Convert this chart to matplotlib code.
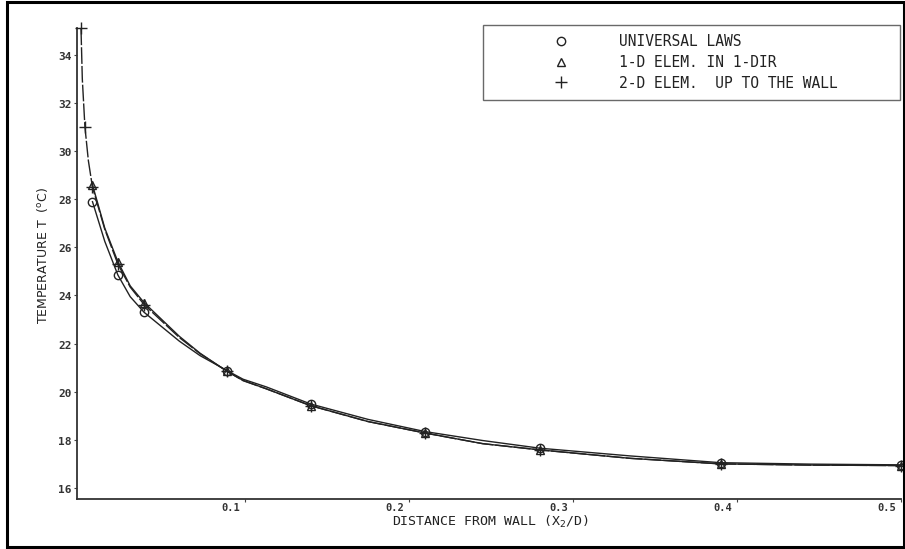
import numpy as np
import matplotlib
matplotlib.use("Agg")
from matplotlib import pyplot as plt
from matplotlib.patches import Rectangle
from matplotlib.lines import Line2D
import matplotlib.transforms as mtransforms

W, H = 905, 549  # figure size in pixels

# computed nodes (markers): x2/D and temperature (C)
x_nodes = [0.007, 0.0225, 0.0385, 0.089, 0.14, 0.21, 0.28, 0.39, 0.5]
t_universal = [27.9, 24.85, 23.3, 20.88, 19.49, 18.34, 17.65, 17.05, 16.96]
t_1d = [28.6, 25.4, 23.7, 20.85, 19.42, 18.28, 17.58, 17.0, 16.93]
x_2d = [0.0, 0.0024, 0.007, 0.0225, 0.0385, 0.089, 0.14, 0.21, 0.28, 0.39, 0.5]
t_2d = [35.1, 31.0, 28.5, 25.3, 23.62, 20.85, 19.42, 18.28, 17.58, 17.0, 16.93]

# the drawn curves at more x positions
x_curve = [0.007, 0.0145, 0.0225, 0.03, 0.0385, 0.06, 0.0726, 0.089, 0.0988,
           0.113, 0.14, 0.175, 0.21, 0.245, 0.28, 0.335, 0.39, 0.445, 0.5]
curve_universal = [27.9, 26.25, 24.85, 23.95, 23.3, 22.1, 21.5, 20.88, 20.52,
                   20.2, 19.49, 18.85, 18.34, 17.97, 17.65, 17.33, 17.05, 16.99, 16.96]
curve_1d = [28.6, 26.8, 25.4, 24.4, 23.7, 22.3, 21.6, 20.85, 20.47,
            20.12, 19.42, 18.76, 18.28, 17.84, 17.58, 17.23, 17.0, 16.95, 16.93]
x_curve_2d = [0.0, 0.0008, 0.0024, 0.0045, 0.007, 0.0145, 0.0225, 0.03, 0.0385,
              0.06, 0.0726, 0.089, 0.0988, 0.113, 0.14, 0.175, 0.21, 0.245,
              0.28, 0.335, 0.39, 0.445, 0.5]
curve_2d = [35.1, 33.0, 31.0, 29.6, 28.5, 26.75, 25.3, 24.35, 23.62,
            22.25, 21.58, 20.85, 20.46, 20.12, 19.42, 18.76, 18.28, 17.84,
            17.58, 17.23, 17.0, 16.95, 16.93]

labels = ["UNIVERSAL LAWS", "1-D ELEM. IN 1-DIR", "2-D ELEM.  UP TO THE WALL"]
xticks = [0.1, 0.2, 0.3, 0.4, 0.5]
yticks = [16, 18, 20, 22, 24, 26, 28, 30, 32, 34]

ink = "#222222"
mono = "DejaVu Sans Mono"


def px(x, y):
    # pixel position (from top left) -> figure fraction
    return x / W, 1 - y / H


fig = plt.figure(figsize=(W / 100, H / 100), dpi=100)
fig.patch.set_facecolor("white")

left, top = px(77, 28)
right, bottom = px(901, 499)
ax = fig.add_axes([left, bottom, right - left, top - bottom])

# curves
ax.plot(x_curve, curve_universal, color=ink, lw=1.0, clip_on=False)
ax.plot(x_curve, curve_1d, color=ink, lw=1.0, clip_on=False)
ax.plot(x_curve_2d, curve_2d, color=ink, lw=1.0, ls=(0, (12, 1.5)), clip_on=False)

# markers
mk = dict(ls="none", mfc="none", mec=ink, mew=1.0, clip_on=False, zorder=3)
ax.plot(x_nodes, t_universal, marker="o", ms=6, **mk)
ax.plot(x_nodes, t_1d, marker="^", ms=6, **mk)
ax.plot(x_2d, t_2d, marker="+", ms=8, **mk)

ax.set_xlim(-0.00244, 0.5)
ax.set_ylim(15.54, 35.12)

for s in ["top", "right"]:
    ax.spines[s].set_visible(False)
for s in ["left", "bottom"]:
    ax.spines[s].set_color("#333333")
    ax.spines[s].set_linewidth(1.3)

ax.set_xticks(xticks)
ax.set_xticklabels([f"{v:.1f}" for v in xticks], family=mono,
                   fontsize=7.5, fontweight="bold", color="#333333")
ax.set_yticks(yticks)
ax.set_yticklabels([str(v) for v in yticks], family=mono,
                   fontsize=8, fontweight="bold", color="#333333")
ax.tick_params(direction="out", length=2.5, width=0.8, color="#444444", pad=1.5)
ax.tick_params(axis="x", pad=0.5)

# tick labels sit beside the tick mark, not centred on it
for lab in ax.get_xticklabels():
    lab.set_horizontalalignment("right")
    lab.set_transform(lab.get_transform() +
                      mtransforms.ScaledTranslation(-5 / 100, 0, fig.dpi_scale_trans))
for lab in ax.get_yticklabels():
    lab.set_verticalalignment("top")
    lab.set_transform(lab.get_transform() +
                      mtransforms.ScaledTranslation(0, 3 / 100, fig.dpi_scale_trans))

# axis titles
fig.text(*px(491, 514), "DISTANCE FROM WALL (X$_2$/D)", family=mono,
         fontsize=9.5, color=ink, ha="center", va="top")
fig.text(*px(43, 256), "TEMPERATURE T  ($^{\\mathrm{o}}$C)",
         family=["Liberation Sans Narrow", "DejaVu Sans"], fontsize=9,
         color=ink, rotation=90, ha="center", va="center")

# legend
handles = [
    Line2D([], [], ls="none", marker="o", ms=6, mfc="none", mec=ink, mew=1.0),
    Line2D([], [], ls="none", marker="^", ms=6, mfc="none", mec=ink, mew=1.0),
    Line2D([], [], ls="none", marker="+", ms=8, mec=ink, mew=1.0),
]
lx0, ly0 = px(483, 97)
lx1, ly1 = px(900, 25)
leg = fig.legend(handles, labels, loc="upper left",
                 bbox_to_anchor=(lx0, ly0, lx1 - lx0, ly1 - ly0),
                 mode="expand", prop={"family": mono, "size": 10.5},
                 frameon=True, fancybox=False, borderpad=0.65,
                 handlelength=9.4, handletextpad=-0.75, labelspacing=0.38,
                 borderaxespad=0)
leg.get_frame().set_edgecolor("#444444")
leg.get_frame().set_linewidth(1.0)
for t in leg.get_texts():
    t.set_color(ink)

# outer frame round the whole picture
fig.add_artist(Rectangle(px(6.5, 546.5), 897 / W, 545 / H, fill=False,
                         ec="black", lw=2.2, transform=fig.transFigure))

fig.savefig("out.png", dpi=100, facecolor="white")
